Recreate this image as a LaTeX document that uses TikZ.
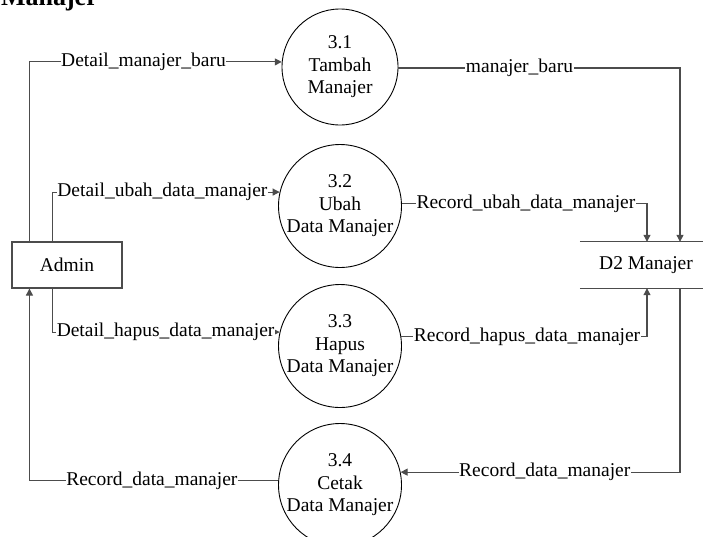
\documentclass[tikz,border=0pt]{standalone}
\usepackage{fontspec}
\setmainfont{Liberation Serif}
\usetikzlibrary{arrows.meta,calc}
\begin{document}
\begin{tikzpicture}[x=1pt,y=-1pt,
  every node/.style={font=\fontsize{19.5}{22.5}\selectfont},
  process/.style={circle,draw=black,line width=0.9pt,minimum size=116pt,inner sep=0pt,align=center},
  entity/.style={rectangle,draw=black!70,line width=1.1pt,minimum width=110pt,minimum height=46pt,inner sep=0pt},
  store/.style={rectangle,minimum width=132pt,minimum height=46pt,inner sep=0pt},
  flow/.style={draw=black!70,line width=1.1pt,-{Triangle[length=7pt,width=7pt]}},
  line/.style={draw=black!70,line width=1.1pt},
  lbl/.style={fill=white,inner sep=0.5pt}]
\useasboundingbox (0,0) rectangle (703,536);

% title
\node[anchor=base east,font=\fontsize{26}{30}\selectfont\bfseries,inner sep=0pt] (title) at (98,5) {Manajer};

% external entity and data store
\node[entity] (admin) at (67,265) {Admin};
\node[store] (d2) at (646,265) {D2 Manajer};
\draw[line] (d2.north west) -- (d2.north east);
\draw[line] (d2.south west) -- (d2.south east);

% processes
\node[process] (c1) at (340,67)  {3.1\\Tambah\\Manajer};
\node[process] (c2) at (340,206) {3.2\\Ubah\\Data Manajer};
\node[process] (c3) at (340,346) {3.3\\Hapus\\Data Manajer};
\node[process] (c4) at (340,485) {3.4\\Cetak\\Data Manajer};

% attachment points on the entity and the store
\coordinate (aN1) at ($(admin.north west)+(18,0)$);
\coordinate (aN2) at ($(admin.north west)+(41,0)$);
\coordinate (aS1) at ($(admin.south west)+(18,0)$);
\coordinate (aS2) at ($(admin.south west)+(41,0)$);
\coordinate (dN1) at ($(d2.north)+(1,0)$);
\coordinate (dN2) at ($(d2.north)+(34,0)$);
\coordinate (dS1) at ($(d2.south)+(1,0)$);
\coordinate (dS2) at ($(d2.south)+(34,0)$);

% flows from Admin
\draw[flow] (aN1) |- (c1.175) node[lbl,pos=0.726] {Detail\_manajer\_baru};
\draw[flow] (aN2) |- (c2.167) node[lbl,pos=0.742] {Detail\_ubah\_data\_manajer};
\draw[flow] (aS2) |- (c3.167) node[lbl,pos=0.749] {Detail\_hapus\_data\_manajer};
\draw[flow] (c4.176) -| (aS1) node[lbl,pos=0.254] {Record\_data\_manajer};

% flows to and from D2 Manajer
\draw[flow] (c1.-1) -| (dN2) node[lbl,pos=0.215] {manajer\_baru};
\draw[flow] (c2.2) -| (dN1) node[lbl,pos=0.253] {Record\_ubah\_data\_manajer};
\draw[flow] (c3.9) -| (dS1) node[lbl,pos=0.256] {Record\_hapus\_data\_manajer};
\draw[flow] (dS2) |- (c4.12) node[lbl,pos=0.742] {Record\_data\_manajer};
\end{tikzpicture}
\end{document}
